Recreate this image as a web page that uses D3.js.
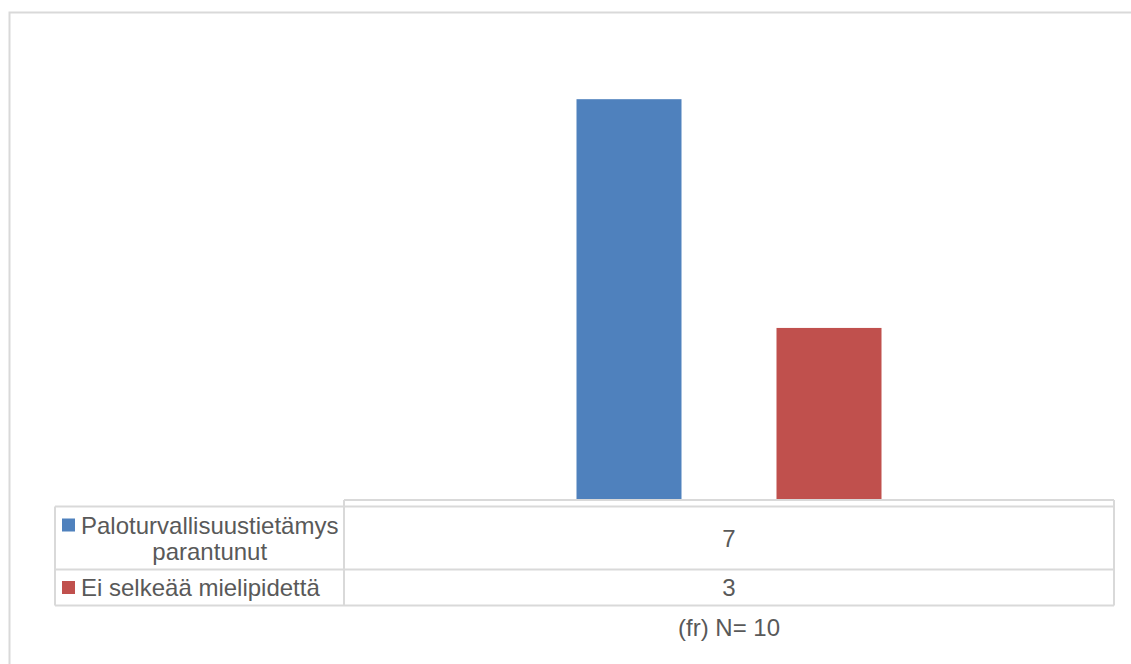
<!DOCTYPE html>
<html>
<head>
<meta charset="utf-8">
<script src="https://cdn.jsdelivr.net/npm/d3@7"></script>
<style>
  html, body { margin: 0; padding: 0; background: #fff; }
  svg { display: block; font-family: "Liberation Sans", Arial, sans-serif; }
</style>
</head>
<body>
<svg id="chart" width="1131" height="664"></svg>
<script>
// Survey result: one category, two answer groups
const categories = ["(fr) N= 10"];
const seriesNames = ["Paloturvallisuustietämys parantunut", "Ei selkeää mielipidettä"];
const seriesLabelLines = [["Paloturvallisuustietämys", "parantunut"], ["Ei selkeää mielipidettä"]];
const seriesValues = [7, 3];
const seriesColors = ["#4f81bd", "#c0504d"];
const yMax = 8;

const svg = d3.select("#chart");
const gridColor = "#d9d9d9";
const textColor = "#595959";
const fontSize = 24;

// Outer chart frame
svg.append("path")
  .attr("d", "M9.5,664 V12.5 H1131")
  .attr("fill", "none")
  .attr("stroke", gridColor)
  .attr("stroke-width", 2);

// Plot geometry
const plotLeft = 344, plotRight = 1114, baseY = 499.5;
const x0 = d3.scaleBand().domain(categories).range([plotLeft, plotRight]).padding(0);
const x1 = d3.scaleBand().domain(seriesNames)
  .range([0, x0.bandwidth()])
  .paddingInner(0.475)
  .paddingOuter(1.1625);
const y = d3.scaleLinear().domain([0, yMax]).range([baseY, 42]);

// Bars
const barData = seriesNames.map((s, i) => ({ cat: categories[0], series: s, value: seriesValues[i], color: seriesColors[i] }));
svg.append("g").selectAll("rect")
  .data(barData)
  .join("rect")
  .attr("x", d => x0(d.cat) + x1(d.series))
  .attr("y", d => y(d.value))
  .attr("width", x1.bandwidth())
  .attr("height", d => y(0) - y(d.value))
  .attr("fill", d => d.color);

// Data table
const legLeft = 55;
const headerTop = 500, rowTops = [506.5, 569.5], tableBottom = 605.5;
const table = svg.append("g").attr("fill", "none").attr("stroke", gridColor).attr("stroke-width", 2);
// header row (empty category cell)
table.append("line").attr("x1", plotLeft).attr("x2", plotRight).attr("y1", headerTop).attr("y2", headerTop);
// horizontal rules
[rowTops[0], rowTops[1], tableBottom].forEach(yy => {
  table.append("line").attr("x1", legLeft).attr("x2", plotRight).attr("y1", yy).attr("y2", yy);
});
// vertical rules
table.append("line").attr("x1", legLeft).attr("x2", legLeft).attr("y1", rowTops[0]).attr("y2", tableBottom);
table.append("line").attr("x1", plotLeft).attr("x2", plotLeft).attr("y1", headerTop).attr("y2", tableBottom);
table.append("line").attr("x1", plotRight).attr("x2", plotRight).attr("y1", headerTop).attr("y2", tableBottom);

// Rows: legend key, series label, value
const rowBottoms = [rowTops[1], tableBottom];
const textX = 81;
seriesNames.forEach((s, i) => {
  const top = rowTops[i], bottom = rowBottoms[i];
  const mid = (top + bottom) / 2;
  const lines = seriesLabelLines[i];
  const lineH = 26;
  const firstBase = mid + 8.5 - (lines.length - 1) * lineH / 2;

  svg.append("rect")
    .attr("x", 62).attr("y", firstBase - 15)
    .attr("width", 13).attr("height", 13)
    .attr("fill", seriesColors[i]);

  const t = svg.append("text")
    .attr("fill", textColor)
    .attr("font-size", fontSize);
  if (lines.length === 1) {
    t.append("tspan").attr("x", textX).attr("y", firstBase).text(lines[0]);
  } else {
    // wrapped label: lines centred on the first line
    const probe = svg.append("text").attr("font-size", fontSize).text(lines[0]);
    const w = probe.node().getComputedTextLength();
    probe.remove();
    const cx = textX + w / 2;
    t.attr("text-anchor", "middle");
    lines.forEach((ln, k) => {
      t.append("tspan").attr("x", cx).attr("y", firstBase + k * lineH).text(ln);
    });
  }

  svg.append("text")
    .attr("x", x0(categories[0]) + x0.bandwidth() / 2)
    .attr("y", mid + 8.5)
    .attr("text-anchor", "middle")
    .attr("fill", textColor)
    .attr("font-size", fontSize)
    .text(seriesValues[i]);
});

// Category label under the table
svg.append("text")
  .attr("x", x0(categories[0]) + x0.bandwidth() / 2)
  .attr("y", 636)
  .attr("text-anchor", "middle")
  .attr("fill", textColor)
  .attr("font-size", fontSize)
  .text(categories[0]);
</script>
</body>
</html>
